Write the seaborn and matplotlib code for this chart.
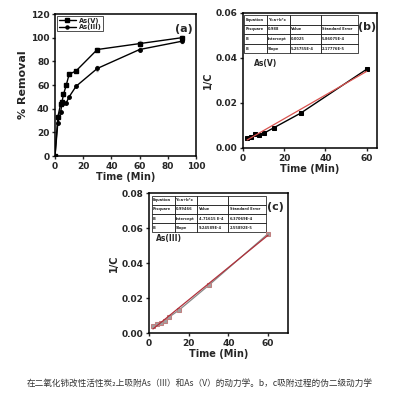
import matplotlib
matplotlib.use("Agg")
import matplotlib.pyplot as plt
from matplotlib.lines import Line2D
import seaborn as sns
import numpy as np

sns.set_style("ticks")
plt.rcParams['font.family'] = ['DejaVu Sans']
plt.rcParams['font.weight'] = 'bold'
plt.rcParams['axes.labelweight'] = 'bold'

# (a) removal kinetics
t_a = [0, 2, 4, 5, 6, 8, 10, 15, 30, 60, 90]
removal_v = [0, 33, 44, 46, 52, 60, 69, 72, 90, 95, 100]
removal_iii = [0, 28, 37, 45, 45, 45, 50, 59, 74, 90, 97]
err_v = [0, 1, 1, 1, 1, 1, 1, 1, 1.5, 2, 1.5]
err_iii = [0, 1, 1, 1, 1, 1, 1, 1, 2, 1.5, 1.5]

# (b) pseudo-second-order, As(V)
t_b = [2, 4, 6, 8, 10, 15, 28, 60]
inv_c_v = [0.0045, 0.0050, 0.0060, 0.0058, 0.0065, 0.0090, 0.0155, 0.0350]
fit_b = {'r2': '0.988', 'a': 0.0025, 'a_txt': '0.0025', 'a_err': '5.86075E-4',
         'b': 5.25755e-4, 'b_txt': '5.25755E-4', 'b_err': '2.17776E-5'}

# (c) pseudo-second-order, As(III)
t_c = [2, 4, 6, 8, 10, 15, 30, 60]
inv_c_iii = [0.0042, 0.0050, 0.0060, 0.0070, 0.0090, 0.0130, 0.0272, 0.0568]
fit_c = {'r2': '0.99466', 'a': 4.71615e-4, 'a_txt': '4.71615 E-4', 'a_err': '6.37069E-4',
         'b': 9.24589e-4, 'b_txt': '9.24589E-4', 'b_err': '2.55892E-5'}

caption = "在二氧化铈改性活性炭₂上吸附As（III）和As（V）的动力学。b，c吸附过程的伪二级动力学"

fig = plt.figure(figsize=(4, 3.96), dpi=100)
fig.patch.set_facecolor('white')

tick_fs = 6.5
lab_fs = 7


def style_axes(ax):
    for s in ax.spines.values():
        s.set_linewidth(1.1)
        s.set_color('black')
    ax.tick_params(labelsize=tick_fs, width=1, length=2.5, pad=1.5)
    for lbl in ax.get_xticklabels() + ax.get_yticklabels():
        lbl.set_fontweight('bold')


def add_fit_table(ax, fit, bbox):
    rows = [["Equation", "Y=a+b*x", "", ""],
            ["R-square", fit['r2'], "Value", "Standard Error"],
            ["B", "Intercept", fit['a_txt'], fit['a_err']],
            ["B", "Slope", fit['b_txt'], fit['b_err']]]
    tb = ax.table(cellText=rows, bbox=bbox, cellLoc='left',
                  colWidths=[0.2, 0.2, 0.27, 0.33])
    tb.auto_set_font_size(False)
    tb.set_fontsize(2.6)
    for cell in tb.get_celld().values():
        cell.set_linewidth(0.5)
        cell.set_facecolor('white')
        cell.PAD = 0.04


# ---- panel (a)
ax1 = fig.add_axes([0.1375, 0.606, 0.3525, 0.3586])
ax1.errorbar(t_a, removal_v, yerr=err_v, color='black', marker='s', ms=2.5,
             lw=1, ecolor='#999999', elinewidth=0.6, capsize=1)
ax1.errorbar(t_a, removal_iii, yerr=err_iii, color='black', marker='o', ms=2.5,
             lw=1, ecolor='#999999', elinewidth=0.6, capsize=1)
ax1.set_xlim(0, 100)
ax1.set_ylim(0, 120)
ax1.set_xticks([0, 20, 40, 60, 80, 100])
ax1.set_yticks([0, 20, 40, 60, 80, 100, 120])
ax1.set_xlabel("Time (Min)", fontsize=lab_fs, labelpad=1)
ax1.set_ylabel("% Removal", fontsize=lab_fs + 1, labelpad=2)
ax1.text(0.975, 0.93, "(a)", transform=ax1.transAxes, ha='right', va='top',
         fontsize=8, fontweight='bold')
handles = [Line2D([], [], color='black', marker='s', ms=2.2, lw=1),
           Line2D([], [], color='black', marker='o', ms=2.2, lw=1)]
leg = ax1.legend(handles, ["As(V)", "As(III)"], loc='upper left', fontsize=4.8,
                 frameon=True, fancybox=False, edgecolor='black',
                 borderpad=0.2, labelspacing=0.05, handlelength=2.6,
                 handletextpad=0.4, borderaxespad=0.35)
leg.get_frame().set_linewidth(0.6)
for txt in leg.get_texts():
    txt.set_fontweight('bold')
style_axes(ax1)

# ---- panel (b)
ax2 = fig.add_axes([0.6075, 0.6263, 0.335, 0.341])
sns.lineplot(x=t_b, y=inv_c_v, ax=ax2, color='black', marker='s',
             markersize=3, markeredgecolor='black', lw=1)
xb = np.array([min(t_b), max(t_b)])
ax2.plot(xb, fit_b['a'] + fit_b['b'] * xb, color='#d9534f', lw=0.9)
ax2.set_xlim(0, 65)
ax2.set_ylim(0, 0.06)
ax2.set_xticks([0, 20, 40, 60])
ax2.set_yticks([0, 0.02, 0.04, 0.06])
ax2.set_yticklabels(["0.00", "0.02", "0.04", "0.06"])
ax2.set_xlabel("Time (Min)", fontsize=lab_fs, labelpad=1)
ax2.set_ylabel("1/C", fontsize=lab_fs, labelpad=2)
ax2.text(0.99, 0.93, "(b)", transform=ax2.transAxes, ha='right', va='top',
         fontsize=8, fontweight='bold')
ax2.text(0.08, 0.61, "As(V)", transform=ax2.transAxes, fontsize=5.5,
         fontweight='bold')
add_fit_table(ax2, fit_b, [0.01, 0.70, 0.85, 0.285])
style_axes(ax2)

# ---- panel (c)
ax3 = fig.add_axes([0.3725, 0.159, 0.3475, 0.3535])
sns.lineplot(x=t_c, y=inv_c_iii, ax=ax3, color='#888888', marker='s',
             markersize=3, markerfacecolor='#a0a0a0',
             markeredgecolor='#c08080', lw=0.9)
xc = np.array([min(t_c), max(t_c)])
ax3.plot(xc, fit_c['a'] + fit_c['b'] * xc, color='#b0303a', lw=0.9)
ax3.set_xlim(0, 70)
ax3.set_ylim(0, 0.08)
ax3.set_xticks([0, 20, 40, 60])
ax3.set_yticks([0, 0.02, 0.04, 0.06, 0.08])
ax3.set_yticklabels(["0.00", "0.02", "0.04", "0.06", "0.08"])
ax3.set_xlabel("Time (Min)", fontsize=lab_fs, labelpad=1)
ax3.set_ylabel("1/C", fontsize=lab_fs, labelpad=2)
ax3.text(0.97, 0.9, "(c)", transform=ax3.transAxes, ha='right', va='center',
         fontsize=8, fontweight='bold')
ax3.text(0.05, 0.655, "As(III)", transform=ax3.transAxes, fontsize=5.5,
         fontweight='bold')
add_fit_table(ax3, fit_c, [0.02, 0.72, 0.82, 0.26])
style_axes(ax3)

fig.text(0.5, 1 - 383 / 396, caption, ha='center', va='center', fontsize=6.2,
         color='#333333', fontweight='normal',
         family=['Noto Sans CJK SC', 'DejaVu Sans'])

fig.savefig("out.png", dpi=100, facecolor='white')
